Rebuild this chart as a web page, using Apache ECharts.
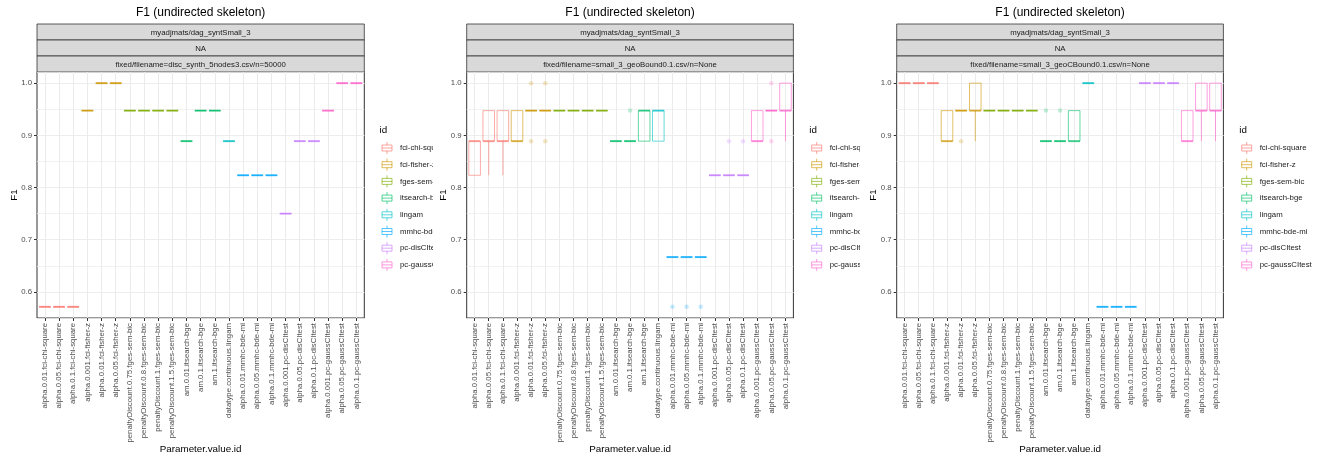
<!DOCTYPE html>
<html><head><meta charset="utf-8">
<script src="https://cdn.jsdelivr.net/npm/echarts@6/dist/echarts.min.js"></script>
<style>html,body{margin:0;padding:0;background:#fff}#c{width:1325px;height:461px}</style>
</head><body><div id="c"></div>
<script>
const categories = [
  'alpha.0.01.fci-chi-square','alpha.0.05.fci-chi-square','alpha.0.1.fci-chi-square',
  'alpha.0.001.fci-fisher-z','alpha.0.01.fci-fisher-z','alpha.0.05.fci-fisher-z',
  'penaltyDiscount.0.75.fges-sem-bic','penaltyDiscount.0.8.fges-sem-bic','penaltyDiscount.1.fges-sem-bic','penaltyDiscount.1.5.fges-sem-bic',
  'am.0.01.itsearch-bge','am.0.1.itsearch-bge','am.1.itsearch-bge',
  'datatype.continuous.lingam',
  'alpha.0.01.mmhc-bde-mi','alpha.0.05.mmhc-bde-mi','alpha.0.1.mmhc-bde-mi',
  'alpha.0.001.pc-disCItest','alpha.0.05.pc-disCItest','alpha.0.1.pc-disCItest',
  'alpha.0.001.pc-gaussCItest','alpha.0.05.pc-gaussCItest','alpha.0.1.pc-gaussCItest'
];
const ids = ['fci-chi-square','fci-fisher-z','fges-sem-bic','itsearch-bge','lingam','mmhc-bde-mi','pc-disCItest','pc-gaussCItest'];
const catId = [0,0,0,1,1,1,2,2,2,2,3,3,3,4,5,5,5,6,6,6,7,7,7];
const palette = ['#F8766D','#CD9600','#7CAE00','#00BE67','#00BFC4','#00A9FF','#C77CFF','#FF61CC'];
const titleText = 'F1 (undirected skeleton)';
const stripTop = 'myadjmats/dag_syntSmall_3';
const stripMid = 'NA';
const stripBottom = ['fixed/filename=disc_synth_5nodes3.csv/n=50000','fixed/filename=small_3_geoBound0.1.csv/n=None','fixed/filename=small_3_geoCBound0.1.csv/n=None'];
const yTicks = [0.6,0.7,0.8,0.9,1.0];

// [min, q1, median, q3, max] per category
const boxes1 = [
  [0.5714,0.5714,0.5714,0.5714,0.5714],[0.5714,0.5714,0.5714,0.5714,0.5714],[0.5714,0.5714,0.5714,0.5714,0.5714],
  [0.9474,0.9474,0.9474,0.9474,0.9474],[1,1,1,1,1],[1,1,1,1,1],
  [0.9474,0.9474,0.9474,0.9474,0.9474],[0.9474,0.9474,0.9474,0.9474,0.9474],[0.9474,0.9474,0.9474,0.9474,0.9474],[0.9474,0.9474,0.9474,0.9474,0.9474],
  [0.8889,0.8889,0.8889,0.8889,0.8889],[0.9474,0.9474,0.9474,0.9474,0.9474],[0.9474,0.9474,0.9474,0.9474,0.9474],
  [0.8889,0.8889,0.8889,0.8889,0.8889],
  [0.8235,0.8235,0.8235,0.8235,0.8235],[0.8235,0.8235,0.8235,0.8235,0.8235],[0.8235,0.8235,0.8235,0.8235,0.8235],
  [0.75,0.75,0.75,0.75,0.75],[0.8889,0.8889,0.8889,0.8889,0.8889],[0.8889,0.8889,0.8889,0.8889,0.8889],
  [0.9474,0.9474,0.9474,0.9474,0.9474],[1,1,1,1,1],[1,1,1,1,1]
];
const boxes2 = [
  [0.8235,0.8235,0.8889,0.8889,0.8889],[0.8235,0.8889,0.8889,0.9474,0.9474],[0.8235,0.8889,0.8889,0.9474,0.9474],
  [0.8889,0.8889,0.8889,0.9474,0.9474],[0.9474,0.9474,0.9474,0.9474,0.9474],[0.9474,0.9474,0.9474,0.9474,0.9474],
  [0.9474,0.9474,0.9474,0.9474,0.9474],[0.9474,0.9474,0.9474,0.9474,0.9474],[0.9474,0.9474,0.9474,0.9474,0.9474],[0.9474,0.9474,0.9474,0.9474,0.9474],
  [0.8889,0.8889,0.8889,0.8889,0.8889],[0.8889,0.8889,0.8889,0.8889,0.8889],[0.8889,0.8889,0.9474,0.9474,0.9474],
  [0.8889,0.8889,0.9474,0.9474,0.9474],
  [0.6667,0.6667,0.6667,0.6667,0.6667],[0.6667,0.6667,0.6667,0.6667,0.6667],[0.6667,0.6667,0.6667,0.6667,0.6667],
  [0.8235,0.8235,0.8235,0.8235,0.8235],[0.8235,0.8235,0.8235,0.8235,0.8235],[0.8235,0.8235,0.8235,0.8235,0.8235],
  [0.8889,0.8889,0.8889,0.9474,0.9474],[0.9474,0.9474,0.9474,0.9474,0.9474],[0.8889,0.9474,0.9474,1,1]
];
const boxes3 = [
  [1,1,1,1,1],[1,1,1,1,1],[1,1,1,1,1],
  [0.8889,0.8889,0.8889,0.9474,0.9474],[0.9474,0.9474,0.9474,0.9474,0.9474],[0.8889,0.9474,0.9474,1,1],
  [0.9474,0.9474,0.9474,0.9474,0.9474],[0.9474,0.9474,0.9474,0.9474,0.9474],[0.9474,0.9474,0.9474,0.9474,0.9474],[0.9474,0.9474,0.9474,0.9474,0.9474],
  [0.8889,0.8889,0.8889,0.8889,0.8889],[0.8889,0.8889,0.8889,0.8889,0.8889],[0.8889,0.8889,0.8889,0.9474,0.9474],
  [1,1,1,1,1],
  [0.5714,0.5714,0.5714,0.5714,0.5714],[0.5714,0.5714,0.5714,0.5714,0.5714],[0.5714,0.5714,0.5714,0.5714,0.5714],
  [1,1,1,1,1],[1,1,1,1,1],[1,1,1,1,1],
  [0.8889,0.8889,0.8889,0.9474,0.9474],[0.8889,0.9474,0.9474,1,1],[0.8889,0.9474,0.9474,1,1]
];
// [category index, value]
const outliers1 = [];
const outliers2 = [[4,1],[4,0.8889],[5,1],[5,0.8889],[11,0.9474],[14,0.5714],[15,0.5714],[16,0.5714],[18,0.8889],[19,0.8889],[21,1],[21,0.8889]];
const outliers3 = [[4,0.8889],[10,0.9474],[11,0.9474]];

const boxesAll = [boxes1, boxes2, boxes3];
const outliersAll = [outliers1, outliers2, outliers3];
const catPositions = categories.map((c, i) => i);

const FONT = '"Liberation Sans", Arial, Helvetica, sans-serif';
const panels = [{L:37, W:327.3, clipX:433, clipW:6.5, txtW:39}, {L:466.7, W:326.7, clipX:860, clipW:8, txtW:36}, {L:896.7, W:326.7}];
const TOP = 72, H = 246;
const EXP = 0.56;
const Y_MIN = 0.55, Y_MAX = 1.0214;
const LINE_A = 0.6;

function rgba(hex, a) {
  const n = parseInt(hex.slice(1), 16);
  return 'rgba(' + ((n >> 16) & 255) + ',' + ((n >> 8) & 255) + ',' + (n & 255) + ',' + a + ')';
}

function makeRender(color) {
  const st = (w) => ({ stroke: rgba(color, LINE_A), lineWidth: w, fill: null });
  return function (params, api) {
    const x = api.value(0);
    const v = [1, 2, 3, 4, 5].map(d => api.value(d));
    const y = v.map(val => api.coord([x, val])[1]);
    const cx = api.coord([x, v[2]])[0];
    const hw = api.size([1, 0])[0] * 0.41;
    const children = [];
    if (Math.abs(y[0] - y[1]) > 0.1) children.push({ type: 'line', shape: { x1: cx, y1: y[0], x2: cx, y2: y[1] }, style: st(1) });
    if (Math.abs(y[3] - y[4]) > 0.1) children.push({ type: 'line', shape: { x1: cx, y1: y[3], x2: cx, y2: y[4] }, style: st(1) });
    children.push({ type: 'polygon', shape: { points: [[cx - hw, y[1]], [cx + hw, y[1]], [cx + hw, y[3]], [cx - hw, y[3]]] }, style: st(1) });
    children.push({ type: 'line', shape: { x1: cx - hw, y1: y[2], x2: cx + hw, y2: y[2] }, style: st(2) });
    return { type: 'group', children: children };
  };
}

const grid = [], xAxis = [], yAxis = [], series = [], title = [], legend = [], graphic = [];
const keyPath = 'path://M6,0L6,3M1,3L11,3L11,9L1,9ZM1,6L11,6M6,9L6,12';

panels.forEach((p, k) => {
  grid.push({ left: p.L, top: TOP, width: p.W, height: H, outerBoundsMode: 'none', containLabel: false, show: true, borderColor: '#333333', borderWidth: 1, backgroundColor: '#ffffff' });
  xAxis.push({
    type: 'value', gridIndex: k, min: -EXP, max: 22 + EXP, position: 'bottom',
    axisLine: { show: false, onZero: false },
    axisTick: { show: true, length: 3, lineStyle: { color: '#333333' }, customValues: catPositions },
    axisLabel: { customValues: catPositions, formatter: v => categories[Math.round(v)], rotate: 90, fontSize: 7.8, color: '#4D4D4D', fontFamily: FONT, margin: 5 },
    splitLine: { show: true, lineStyle: { color: '#EBEBEB', width: 1 } },
    name: 'Parameter.value.id', nameLocation: 'middle', nameGap: 126, nameMoveOverlap: false,
    nameTextStyle: { fontSize: 9.8, color: '#000', fontFamily: FONT }
  });
  // main y axis: labels + ticks at 0.1 steps
  yAxis.push({
    type: 'value', gridIndex: k, min: Y_MIN, max: Y_MAX, interval: 0.05, position: 'left',
    axisLine: { show: false, onZero: false },
    axisTick: { show: true, length: 3, lineStyle: { color: '#333333' }, customValues: yTicks },
    axisLabel: { customValues: yTicks, formatter: v => v.toFixed(1), fontSize: 7.8, color: '#4D4D4D', fontFamily: FONT, margin: 5 },
    splitLine: { show: true, lineStyle: { color: '#EBEBEB', width: 1 } },
    name: 'F1', nameLocation: 'middle', nameGap: 18, nameMoveOverlap: false,
    nameTextStyle: { fontSize: 9.8, color: '#000', fontFamily: FONT }
  });
  // helper y axis: only the 0.05-step (major + minor) grid lines
  yAxis.push({
    type: 'value', gridIndex: k, min: Y_MIN, max: Y_MAX, interval: 0.05, position: 'right',
    axisLine: { show: false, onZero: false }, axisTick: { show: false }, axisLabel: { show: false },
    splitLine: { show: true, lineStyle: { color: '#EEEEEE', width: 0.8 } }
  });

  const boxes = boxesAll[k], outs = outliersAll[k];
  ids.forEach((id, i) => {
    const data = [];
    boxes.forEach((b, c) => { if (catId[c] === i) data.push([c].concat(b)); });
    series.push({
      type: 'custom', name: id, xAxisIndex: k, yAxisIndex: 2 * k,
      itemStyle: { color: palette[i] }, renderItem: makeRender(palette[i]), data: data, z: 3, silent: true
    });
    const od = outs.filter(o => catId[o[0]] === i);
    if (od.length) {
      series.push({
        type: 'scatter', name: id, xAxisIndex: k, yAxisIndex: 2 * k, data: od,
        symbolSize: 4.5, itemStyle: { color: rgba(palette[i], 0.3) }, z: 2, silent: true
      });
    }
  });

  title.push({
    text: titleText, left: p.L + p.W / 2, top: 7, textAlign: 'center', padding: 0,
    textStyle: { fontSize: 12, fontWeight: 'normal', color: '#000', fontFamily: FONT }
  });

  const txt = p.txtW ? { width: p.txtW, overflow: 'truncate', ellipsis: '' } : {};
  legend.push(Object.assign({
    orient: 'vertical', left: p.L + 344.5, top: 141.5, padding: 0,
    itemWidth: 12, itemHeight: 12, itemGap: 3.7, selectedMode: false, icon: keyPath,
    data: ids.map((id, i) => ({ name: id, itemStyle: { color: 'rgba(0,0,0,0)', borderColor: rgba(palette[i], 0.65), borderWidth: 1 } })),
    textStyle: Object.assign({ fontSize: 7.8, color: '#1A1A1A', fontFamily: FONT, padding: [0, 0, 0, 2] }, txt)
  }));

  const strips = [stripTop, stripMid, stripBottom[k]];
  strips.forEach((s, j) => {
    graphic.push({ type: 'rect', shape: { x: p.L, y: 24 + 16 * j, width: p.W, height: 16 }, style: { fill: '#D9D9D9', stroke: '#333333', lineWidth: 0.8 }, silent: true });
    graphic.push({ type: 'text', x: p.L + p.W / 2, y: 24 + 16 * j + 8.5, style: { text: s, fontSize: 7.8, fontFamily: FONT, fill: '#1A1A1A', align: 'center', verticalAlign: 'middle' }, silent: true });
  });
  graphic.push({ type: 'text', x: p.L + 342.5, y: 130, style: { text: 'id', fontSize: 9.8, fontFamily: FONT, fill: '#000', align: 'left', verticalAlign: 'middle' }, silent: true });
  if (p.clipX) {
    graphic.push({ type: 'rect', z: 100, shape: { x: p.clipX, y: 138, width: p.clipW, height: 130 }, style: { fill: '#ffffff' }, silent: true });
  }
});

const chart = echarts.init(document.getElementById('c'), null, { renderer: 'canvas' });
chart.setOption({
  animation: false,
  backgroundColor: '#ffffff',
  title: title, grid: grid, xAxis: xAxis, yAxis: yAxis, legend: legend, series: series, graphic: graphic
});
</script>
</body></html>
